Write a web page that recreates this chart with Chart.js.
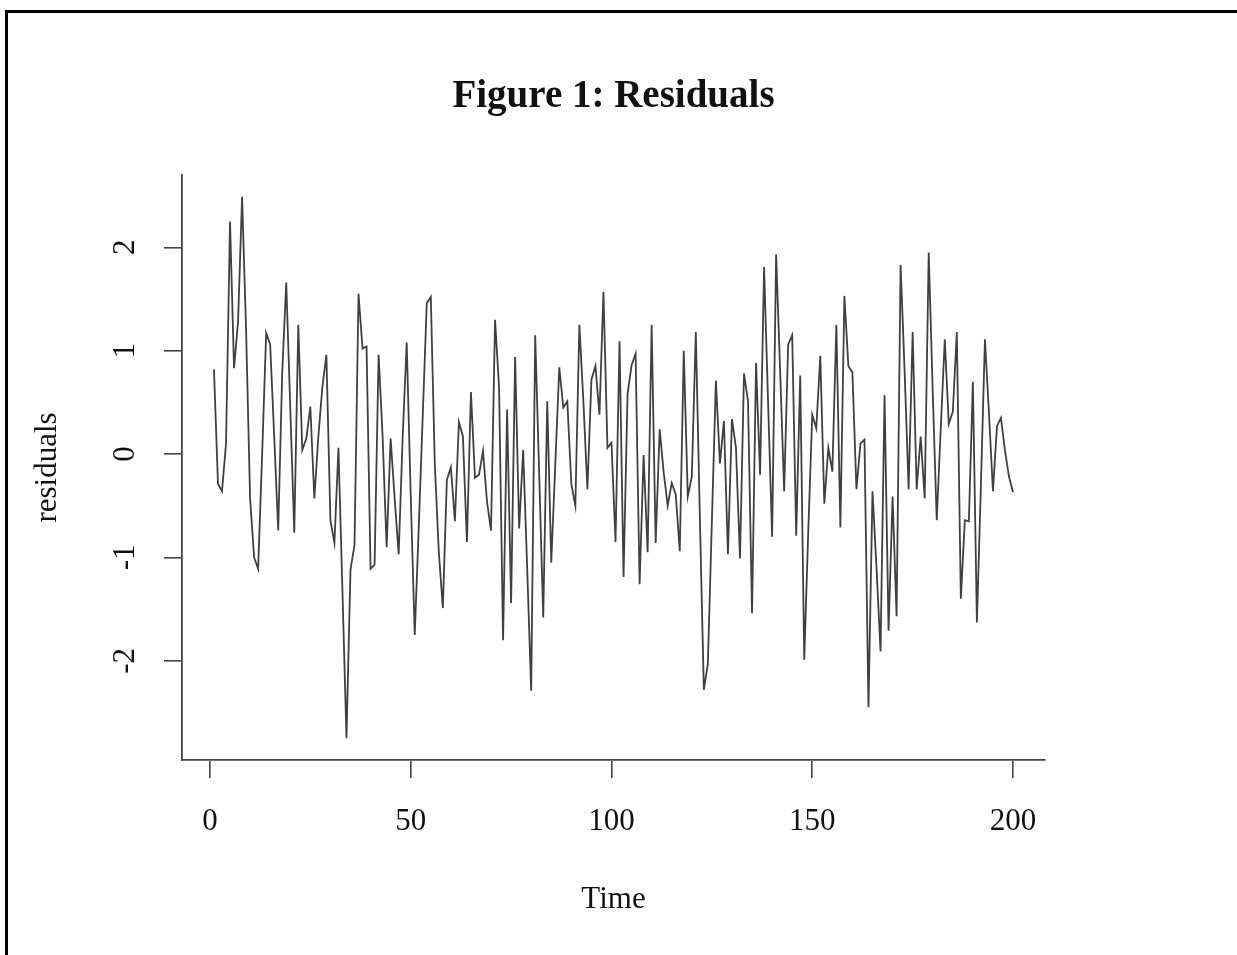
<!DOCTYPE html>
<html>
<head>
<meta charset="utf-8">
<title>Figure 1: Residuals</title>
<script src="https://cdn.jsdelivr.net/npm/chart.js@4.4.1/dist/chart.umd.min.js"></script>
<style>
  body { margin: 0; background: #fff; }
  #wrap { position: relative; width: 1237px; height: 955px; overflow: hidden; }
  #frame {
    position: absolute; left: 5px; top: 10px; width: 1300px; height: 1000px;
    border-left: 3px solid #000; border-top: 3px solid #000; pointer-events: none;
  }
</style>
</head>
<body>
<div id="wrap">
  <canvas id="residualChart" width="1237" height="955"></canvas>
  <div id="frame"></div>
</div>
<script>
const titleText = 'Figure 1: Residuals';
const xTitle = 'Time';
const yTitle = 'residuals';
const xTicks = [0, 50, 100, 150, 200];
const yTicks = [-2, -1, 0, 1, 2];

// residuals, t = 1..200
const residuals = [
   0.82, -0.29, -0.36,  0.10,  2.25,  0.83,  1.28,  2.49,  1.20, -0.43,
  -1.00, -1.11,  0.00,  1.17,  1.06,  0.17, -0.74,  0.79,  1.66,  0.45,
  -0.76,  1.25,  0.04,  0.15,  0.46, -0.43,  0.17,  0.65,  0.96, -0.64,
  -0.86,  0.06, -1.33, -2.75, -1.12, -0.88,  1.55,  1.02,  1.04, -1.11,
  -1.07,  0.96,  0.17, -0.90,  0.15, -0.43, -0.97,  0.17,  1.08, -0.40,
  -1.75, -0.71,  0.38,  1.46,  1.52, -0.10, -0.95, -1.49, -0.25, -0.13,
  -0.65,  0.31,  0.17, -0.85,  0.60, -0.23, -0.20,  0.03, -0.46, -0.74,
   1.30,  0.65, -1.80,  0.43, -1.44,  0.94, -0.72,  0.04, -1.10, -2.29,
   1.15, -0.20, -1.58,  0.51, -1.05, -0.10,  0.84,  0.45,  0.51, -0.29,
  -0.50,  1.25,  0.51, -0.34,  0.72,  0.85,  0.38,  1.57,  0.06,  0.11,
  -0.85,  1.09, -1.19,  0.58,  0.86,  0.97, -1.26, -0.01, -0.95,  1.25,
  -0.86,  0.24, -0.18, -0.50, -0.28, -0.39, -0.94,  1.00, -0.41, -0.22,
   1.18, -0.60, -2.28, -2.03, -0.65,  0.71, -0.09,  0.32, -0.97,  0.34,
   0.06, -1.01,  0.78,  0.51, -1.54,  0.88, -0.20,  1.81,  0.50, -0.80,
   1.93,  0.80, -0.36,  1.06,  1.15, -0.79,  0.76, -1.99, -0.75,  0.38,
   0.25,  0.95, -0.48,  0.06, -0.17,  1.25, -0.71,  1.53,  0.85,  0.79,
  -0.34,  0.10,  0.14, -2.45, -0.36, -1.10, -1.91,  0.57, -1.71, -0.41,
  -1.57,  1.83,  0.80, -0.34,  1.18, -0.34,  0.17, -0.43,  1.95,  0.60,
  -0.64,  0.25,  1.11,  0.29,  0.41,  1.18, -1.40, -0.64, -0.65,  0.70,
  -1.63, -0.30,  1.11,  0.40, -0.36,  0.27,  0.35,  0.03, -0.22, -0.37
];
const time = residuals.map((_, i) => i + 1);

// R style axis limits: data range plus 4% on each side
function rRange(vals) {
  const lo = Math.min(...vals), hi = Math.max(...vals);
  const pad = (hi - lo) * 0.04;
  return [lo - pad, hi + pad];
}
const [xMin, xMax] = rRange(time);
const [yMin, yMax] = rRange(residuals);

const serif = '"Liberation Serif", "Times New Roman", serif';

const rText = {
  id: 'rText',
  afterDraw(chart) {
    const ctx = chart.ctx;
    const area = chart.chartArea;
    const yScale = chart.scales.y;
    const midX = (area.left + area.right) / 2;
    const midY = (area.top + area.bottom) / 2;
    ctx.save();
    ctx.fillStyle = '#111';
    ctx.textAlign = 'center';
    ctx.textBaseline = 'middle';

    ctx.font = 'bold 39px ' + serif;
    ctx.fillText(titleText, midX, 97);

    ctx.font = '31px ' + serif;
    ctx.fillText(xTitle, midX, 900);

    yTicks.forEach(v => {
      ctx.save();
      ctx.translate(126, yScale.getPixelForValue(v));
      ctx.rotate(-Math.PI / 2);
      ctx.fillText(String(v), 0, 0);
      ctx.restore();
    });

    ctx.translate(48, midY);
    ctx.rotate(-Math.PI / 2);
    ctx.fillText(yTitle, 0, 0);
    ctx.restore();
  }
};

const ctx = document.getElementById('residualChart').getContext('2d');
new Chart(ctx, {
  type: 'line',
  data: {
    datasets: [{
      data: time.map((t, i) => ({ x: t, y: residuals[i] })),
      borderColor: '#404040',
      borderWidth: 1.8,
      pointRadius: 0,
      tension: 0
    }]
  },
  options: {
    responsive: false,
    animation: false,
    devicePixelRatio: 1,
    layout: { padding: { top: 175, right: 192, bottom: 0, left: 0 } },
    plugins: {
      legend: { display: false },
      tooltip: { enabled: false }
    },
    scales: {
      x: {
        type: 'linear',
        min: xMin,
        max: xMax,
        afterBuildTicks: axis => { axis.ticks = xTicks.map(v => ({ value: v })); },
        afterFit: axis => { axis.height = 195; },
        grid: { drawOnChartArea: false, drawTicks: true, tickLength: 18, color: '#444', lineWidth: 1.6 },
        border: { display: true, color: '#444', width: 1.8 },
        ticks: {
          color: '#111',
          font: { family: serif, size: 31 },
          padding: 25,
          maxRotation: 0,
          autoSkip: false
        }
      },
      y: {
        type: 'linear',
        min: yMin,
        max: yMax,
        afterBuildTicks: axis => { axis.ticks = yTicks.map(v => ({ value: v })); },
        afterFit: axis => { axis.width = 182; },
        grid: { drawOnChartArea: false, drawTicks: true, tickLength: 18, color: '#444', lineWidth: 1.6 },
        border: { display: true, color: '#444', width: 1.8 },
        ticks: { display: false }
      }
    }
  },
  plugins: [rText]
});
</script>
</body>
</html>
